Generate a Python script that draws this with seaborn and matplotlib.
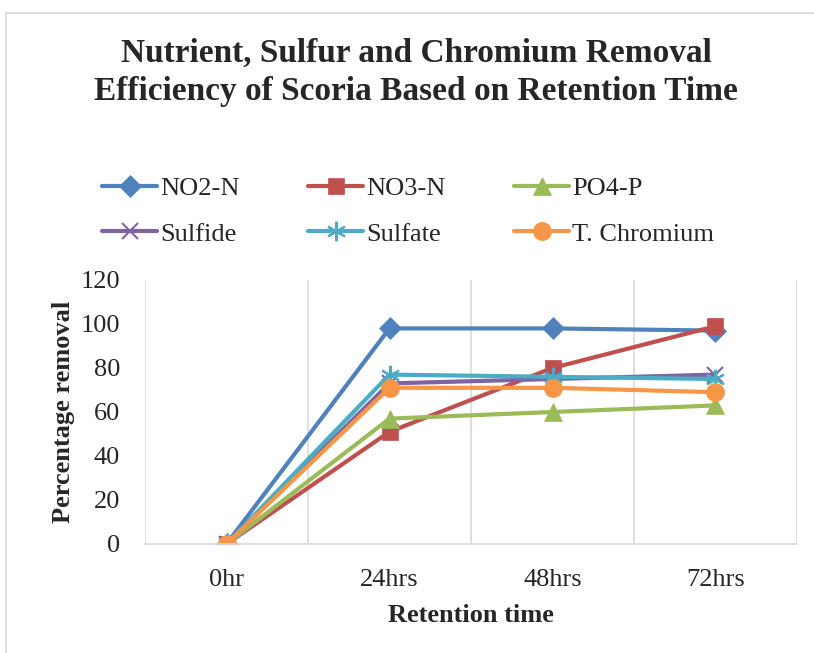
import numpy as np
import pandas as pd
import seaborn as sns
import matplotlib.pyplot as plt
from matplotlib.patches import Rectangle

# Data
retention = ['0hr', '24hrs', '48hrs', '72hrs']
no2_n = [0, 98, 98, 97]
no3_n = [0, 51, 80, 99]
po4_p = [0, 57, 60, 63]
sulfide = [0, 73, 75, 77]
sulfate = [0, 77, 76, 75]
t_chromium = [0, 71, 71, 69]

series_names = ['NO2-N', 'NO3-N', 'PO4-P', 'Sulfide', 'Sulfate', 'T. Chromium']
series_values = [no2_n, no3_n, po4_p, sulfide, sulfate, t_chromium]
colors = ['#4F81BD', '#C0504D', '#9BBB59', '#8064A2', '#4BACC6', '#F79646']
markers = ['D', 's', '^', 'x', (6, 2, 0), 'o']
msizes = [11, 12, 13, 12, 14, 13]

df = pd.DataFrame({
    'Retention time': retention * len(series_names),
    'pos': list(range(len(retention))) * len(series_names),
    'Percentage removal': sum(series_values, []),
    'Series': np.repeat(series_names, len(retention)),
})

sns.set_style('white')
plt.rcParams['font.family'] = ['Liberation Serif', 'DejaVu Serif']

fig = plt.figure(figsize=(8.14, 6.53), dpi=100)
ax = fig.add_axes([145 / 814, 1 - 544 / 653, 652 / 814, 264 / 653])

for name, col, mk, ms in zip(series_names, colors, markers, msizes):
    sub = df[df['Series'] == name]
    sns.lineplot(data=sub, x='pos', y='Percentage removal', ax=ax, color=col,
                 marker=mk, markersize=ms, linewidth=3, label=name,
                 markeredgecolor=col, markeredgewidth=1.5 if mk in ('x', (6, 2, 0)) else 0.5)

ax.set_xlim(-0.5, 3.5)
ax.set_ylim(0, 120)
ax.set_yticks(range(0, 121, 20))
ax.set_xticks(range(len(retention)))
ax.set_xticklabels(retention)
ax.tick_params(axis='both', labelsize=19, length=0)
ax.tick_params(axis='y', pad=18)
ax.tick_params(axis='x', pad=18)

for xv in [-0.5, 0.5, 1.5, 2.5, 3.5]:
    ax.axvline(xv, color='#D9D9D9', linewidth=1.2, zorder=0)
for s in ['top', 'left', 'right']:
    ax.spines[s].set_visible(False)
ax.spines['bottom'].set_color('#D9D9D9')
ax.spines['bottom'].set_linewidth(1.2)

ax.set_xlabel('Retention time', fontsize=19, fontweight='bold', labelpad=9)
ax.set_ylabel('Percentage removal', fontsize=19, fontweight='bold', labelpad=4)

# legend filled row by row like the original
handles, labels = ax.get_legend_handles_labels()
ax.get_legend().remove()
order = [0, 3, 1, 4, 2, 5]
fig.legend([handles[i] for i in order], [labels[i] for i in order], ncol=3, loc='center',
           bbox_to_anchor=(408 / 814, 1 - 211 / 653),
           frameon=False, fontsize=19, handlelength=2.1, columnspacing=2.6,
           handletextpad=0.1, labelspacing=0.85)

fig.text(416 / 814, 1 - 72 / 653,
         'Nutrient, Sulfur and Chromium Removal\nEfficiency of Scoria Based on Retention Time',
         ha='center', va='center', fontsize=24, fontweight='bold', linespacing=1.3)

fig.patches.append(Rectangle((6 / 814, -0.1), 1.0, 1 - 13 / 653 + 0.1, transform=fig.transFigure,
                             fill=False, edgecolor='#D9D9D9', linewidth=1.2))

fig.savefig('out.png', dpi=100)
